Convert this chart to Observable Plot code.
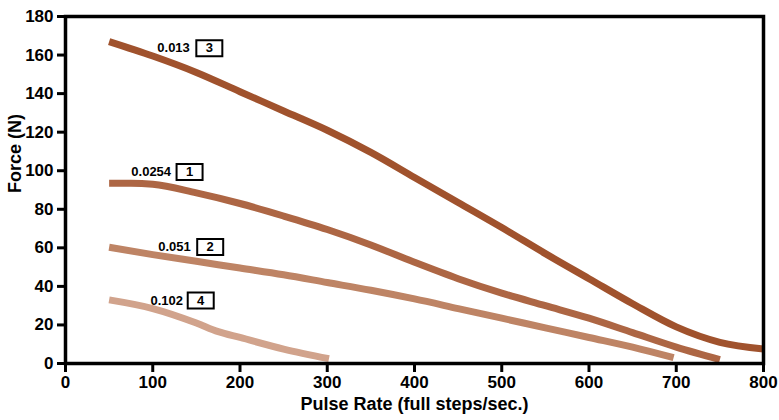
<!DOCTYPE html>
<html><head><meta charset="utf-8">
<script src="https://cdn.jsdelivr.net/npm/d3@7"></script>
<script src="https://cdn.jsdelivr.net/npm/@observablehq/plot@0.6"></script>
<style>
body{margin:0;background:#fff;}
#chart svg{font-family:"Liberation Sans",Arial,sans-serif;}
</style>
</head><body><div id="chart"></div>
<script>
const rate3 = [50, 100, 150, 200, 250, 300, 350, 400, 450, 500, 550, 600, 650, 700, 750, 800];
const force3 = [167, 159.5, 151, 141, 131, 121, 109.5, 96.5, 83.5, 70.5, 57, 44, 31, 19, 11, 7.5];
const rate1 = [50, 75, 100, 150, 200, 250, 300, 350, 400, 450, 500, 550, 600, 650, 700, 750];
const force1 = [93.5, 93.5, 93, 88.5, 83, 76.5, 69.5, 61.5, 52.5, 44, 36.5, 30, 23.5, 16, 8.5, 2];
const rate2 = [50, 100, 150, 200, 250, 300, 350, 400, 450, 500, 550, 600, 650, 697];
const force2 = [60.3, 56.5, 53, 49.5, 46, 42, 38, 33.5, 28.5, 23.5, 18.5, 13.5, 8.5, 3];
const rate4 = [50, 100, 150, 175, 200, 250, 302];
const force4 = [33, 28.5, 21, 16.5, 13.5, 7.5, 2.5];
const seriesNames = ["0.013", "0.0254", "0.051", "0.102"];
const seriesIds = ["3", "1", "2", "4"];
const seriesColors = ["#A0522D", "#AD6644", "#BE8465", "#D1A38C"];
const labelX = [142.5, 121, 143.5, 134.7];
const labelY = [163.5, 99.3, 60.4, 32.7];
const boxOffset = [19.5, 18.5, 19.5, 17.7];

const series = [[rate3, force3], [rate1, force1], [rate2, force2], [rate4, force4]];
const lineData = series.flatMap(([xs, ys], i) => xs.map((x, j) => ({x, y: ys[j], s: seriesNames[i], c: seriesColors[i]})));
const labels = seriesNames.map((n, i) => ({name: n, id: seriesIds[i], x: labelX[i], y: labelY[i], off: boxOffset[i]}));

const boxSymbol = {draw(ctx, size) { ctx.rect(-13, -8, 26, 16); }};

const chart = Plot.plot({
  width: 779, height: 420,
  marginLeft: 65, marginRight: 16, marginTop: 16, marginBottom: 57,
  x: {domain: [0, 800]},
  y: {domain: [0, 180]},
  style: {fontFamily: "Liberation Sans, Arial, sans-serif", fontSize: "17px", fontWeight: "bold", color: "#000"},
  marks: [
    Plot.line(lineData, {x: "x", y: "y", z: "s", stroke: "c", strokeWidth: 7, curve: "monotone-x", strokeLinecap: "butt", strokeLinejoin: "round"}),
    Plot.frame({stroke: "#000", strokeWidth: 3.5}),
    Plot.axisX({ticks: d3.range(0, 801, 100), tickSize: 9, strokeWidth: 3, tickPadding: 3, fontSize: 17, fontWeight: "bold", label: null}),
    Plot.axisY({ticks: d3.range(0, 181, 20), tickSize: 8, strokeWidth: 3, tickPadding: 4, fontSize: 17, fontWeight: "bold", label: null}),
    Plot.text(["Pulse Rate (full steps/sec.)"], {frameAnchor: "bottom", dy: 46, fontSize: 18, fontWeight: "bold"}),
    Plot.text(["Force (N)"], {frameAnchor: "left", dx: -50, dy: 3, rotate: -90, fontSize: 18, fontWeight: "bold"}),
    Plot.text(labels, {x: "x", y: "y", text: "name", textAnchor: "end", fontSize: 13, fontWeight: "bold"}),
    ...labels.map(l => Plot.dot([l], {x: "x", y: "y", dx: l.off, symbol: boxSymbol, r: 5, stroke: "#000", strokeWidth: 2, fill: "#fff"})),
    ...labels.map(l => Plot.text([l], {x: "x", y: "y", dx: l.off, text: "id", fontSize: 13, fontWeight: "bold"}))
  ]
});
document.getElementById("chart").appendChild(chart);
</script></body></html>
